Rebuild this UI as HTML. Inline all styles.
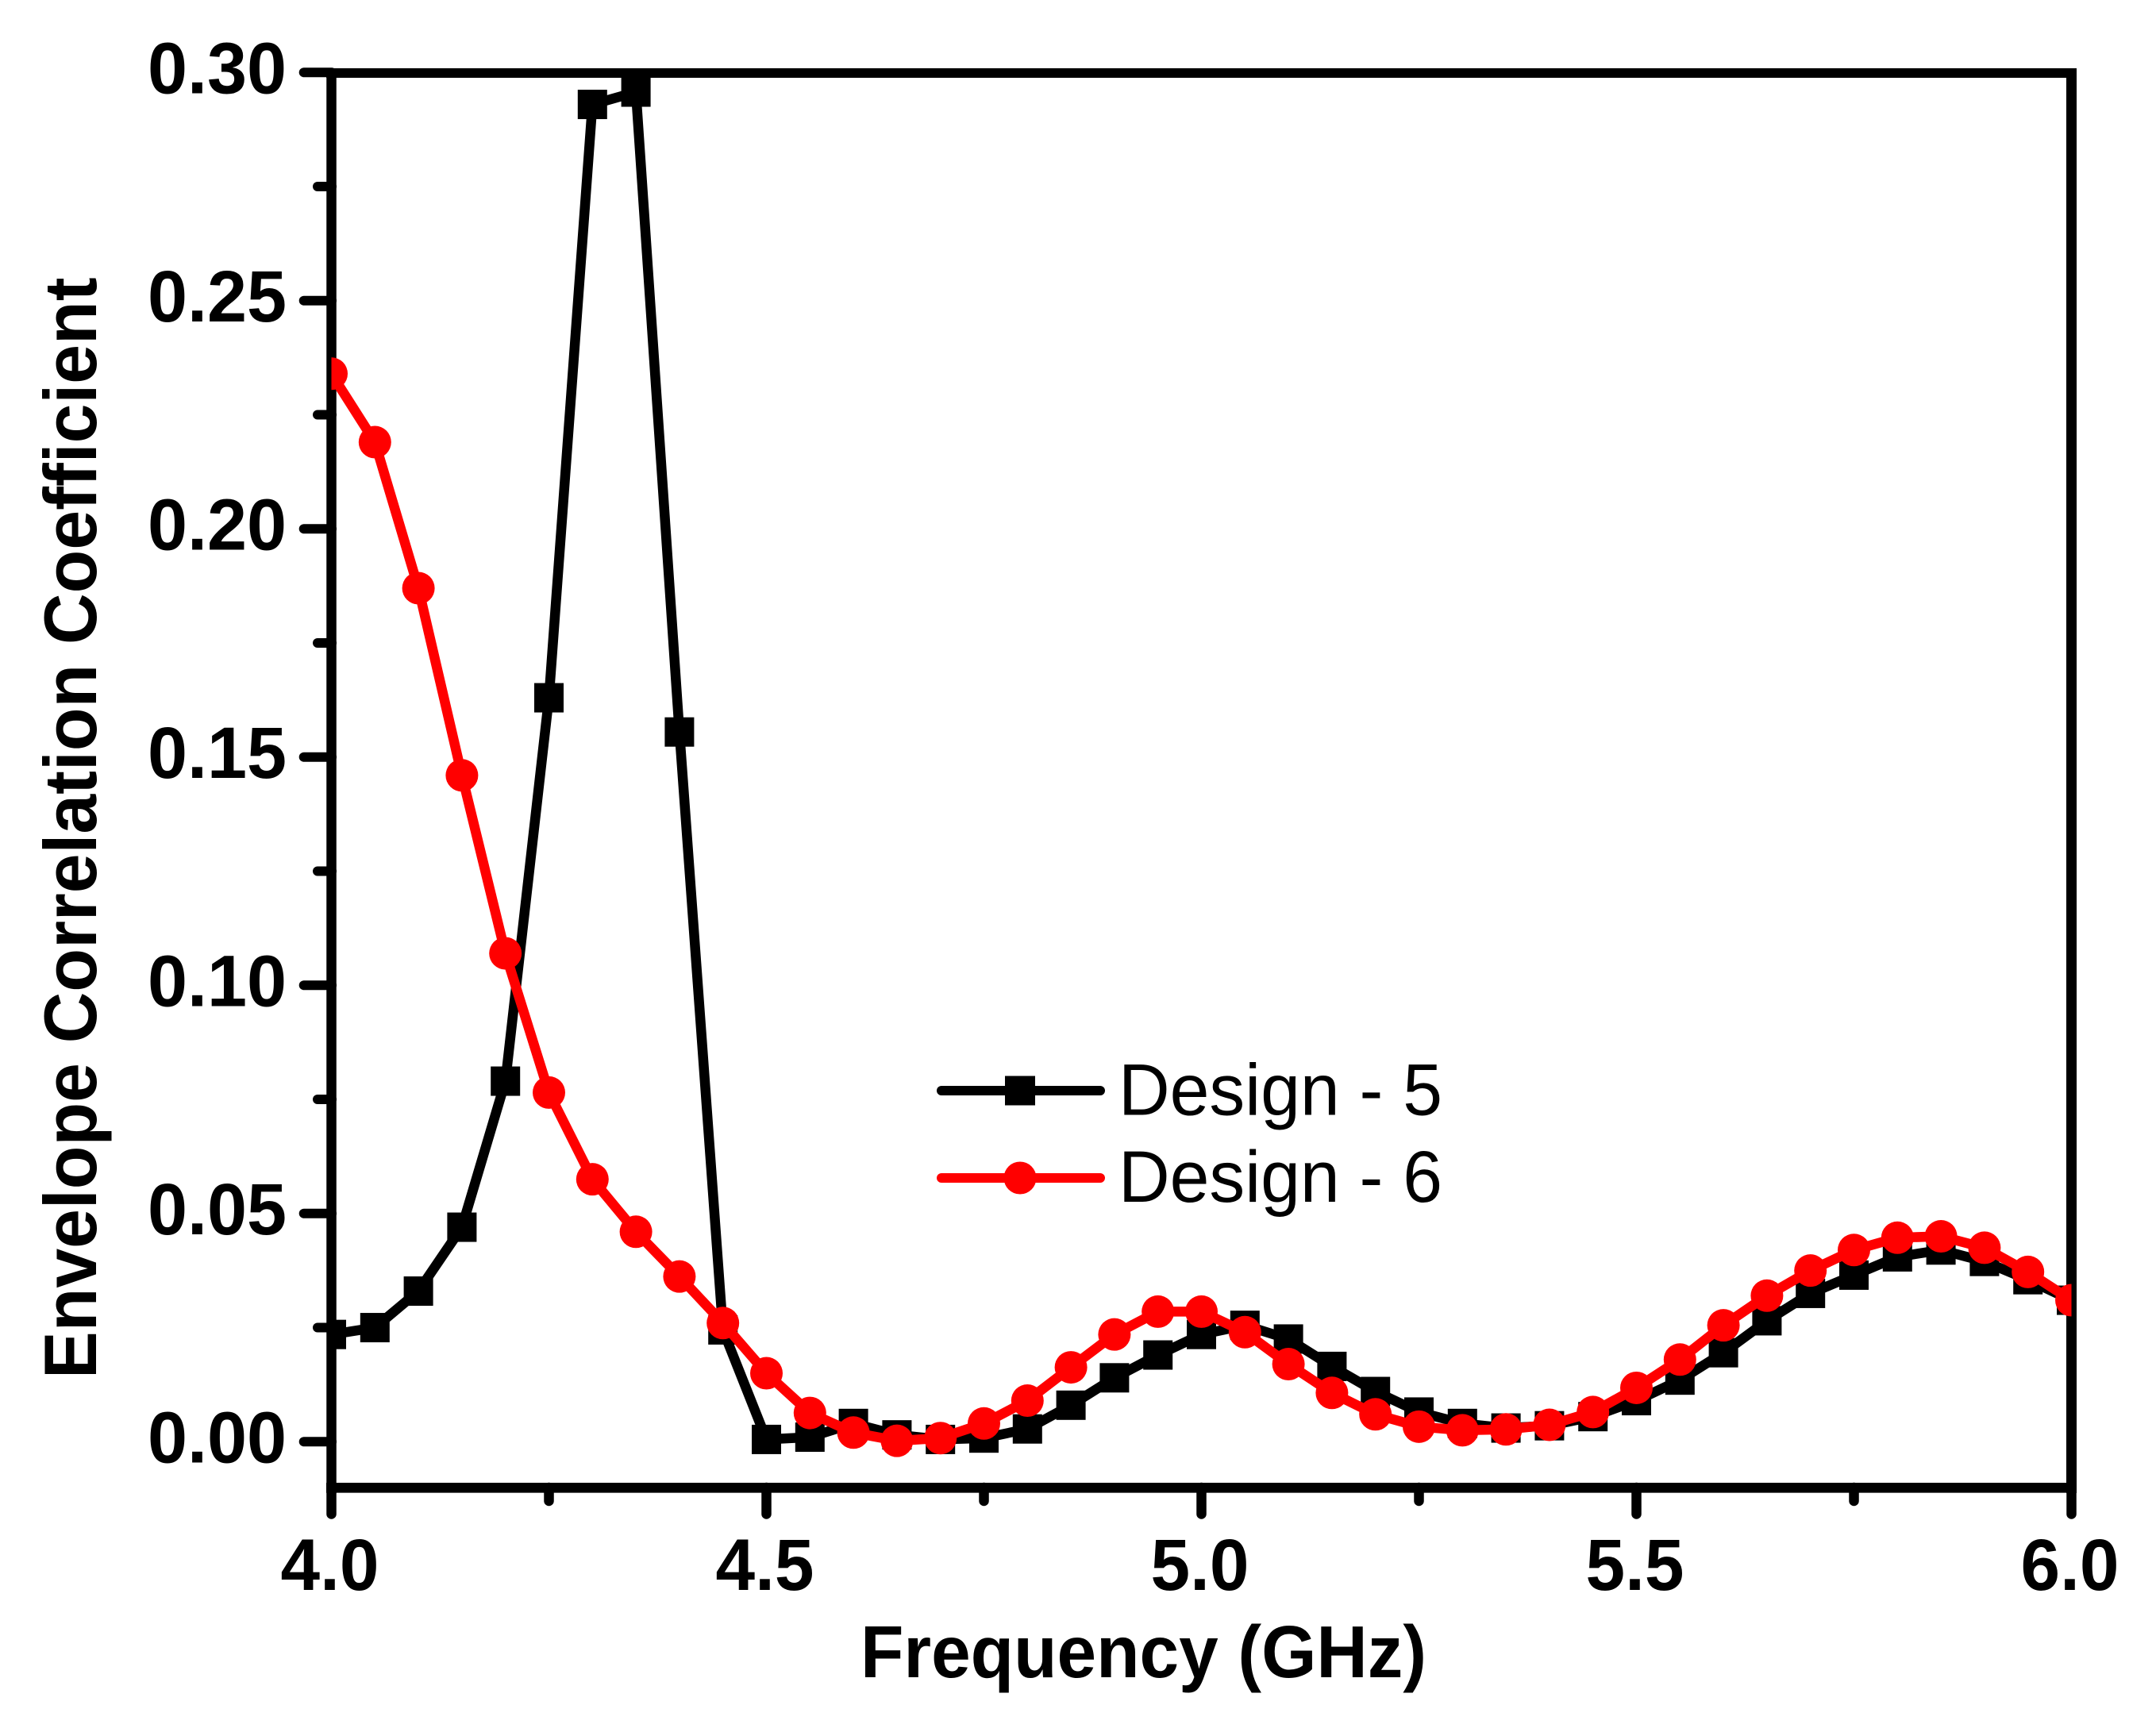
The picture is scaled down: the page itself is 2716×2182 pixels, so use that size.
<!DOCTYPE html>
<html lang="en">
<head>
<meta charset="utf-8">
<title>Envelope Correlation Coefficient vs Frequency</title>
<style>
html,body{margin:0;padding:0;background:#fff;}
svg{display:block;}
text{font-family:"Liberation Sans",Arial,sans-serif;fill:#000;}
</style>
</head>
<body>
<svg id="chart" xmlns="http://www.w3.org/2000/svg" width="2716" height="2182" viewBox="0 0 2716 2182">
  <defs>
    <clipPath id="plot-clip"><rect x="417.5" y="86" width="2192" height="1795"></rect></clipPath>
  </defs>
  <rect x="0" y="0" width="2716" height="2182" fill="#fff"></rect>
  <g id="ticks"></g>
  <g id="frame" stroke="#000" fill="none">
    <line x1="411" x2="2616" y1="92" y2="92" stroke-width="12"></line>
    <line x1="411" x2="2616" y1="1874.3" y2="1874.3" stroke-width="12.7"></line>
    <line x1="417.5" x2="417.5" y1="86" y2="1881" stroke-width="12.5"></line>
    <line x1="2609.5" x2="2609.5" y1="86" y2="1881" stroke-width="13"></line>
  </g>
  <g id="tick-labels"></g>
  <g id="series" clip-path="url(#plot-clip)"></g>
  <text x="1084" y="2113" font-size="93" font-weight="700" textLength="713" lengthAdjust="spacingAndGlyphs">Frequency (GHz)</text>
  <text transform="translate(121,1737) rotate(-90)" font-size="94" font-weight="700" textLength="1387.5" lengthAdjust="spacingAndGlyphs">Envelope Correlation Coefficient</text>
  <g>
    <g>
      <line x1="1186" x2="1386" y1="1374" y2="1374" stroke="#000" stroke-width="12" stroke-linecap="round"></line>
      <rect x="1266" y="1355.5" width="38" height="37" fill="#000"></rect>
      <text x="1409" y="1404.5" font-size="91.5" textLength="408" lengthAdjust="spacingAndGlyphs">Design - 5</text>
    </g>
    <g>
      <line x1="1186" x2="1386" y1="1484" y2="1484" stroke="#f00" stroke-width="12" stroke-linecap="round"></line>
      <circle cx="1285" cy="1484" r="20.5" fill="#f00"></circle>
      <text x="1409" y="1514" font-size="91.5" textLength="408" lengthAdjust="spacingAndGlyphs">Design - 6</text>
    </g>
  </g>
</svg>
<script>
const frequencies = [4.00,4.05,4.10,4.15,4.20,4.25,4.30,4.35,4.40,4.45,4.50,4.55,4.60,4.65,4.70,4.75,4.80,4.85,4.90,4.95,5.00,5.05,5.10,5.15,5.20,5.25,5.30,5.35,5.40,5.45,5.50,5.55,5.60,5.65,5.70,5.75,5.80,5.85,5.90,5.95,6.00];
const design5 = [0.0235,0.025,0.033,0.047,0.079,0.163,0.293,0.2957,0.1555,0.0245,0.0005,0.001,0.004,0.0015,0.0005,0.0008,0.0028,0.008,0.014,0.019,0.0235,0.0255,0.0225,0.0165,0.011,0.0065,0.004,0.003,0.0035,0.0055,0.009,0.0135,0.0195,0.0265,0.0325,0.0365,0.0405,0.042,0.0395,0.0355,0.031];
const design6 = [0.234,0.219,0.187,0.146,0.107,0.0765,0.0575,0.046,0.0362,0.026,0.015,0.0063,0.002,0.0002,0.0008,0.004,0.009,0.0163,0.0235,0.0285,0.0285,0.024,0.017,0.0107,0.006,0.0033,0.0025,0.0027,0.0037,0.0065,0.0118,0.018,0.0255,0.032,0.0375,0.042,0.0447,0.045,0.0425,0.0372,0.031];
const xMajorTicks = [4.0,4.5,5.0,5.5,6.0];
const xMinorTicks = [4.25,4.75,5.25,5.75];
const yMajorTicks = [0.00,0.05,0.10,0.15,0.20,0.25,0.30];
const yMinorTicks = [0.025,0.075,0.125,0.175,0.225,0.275];
const xTickLabels = ["4.0","4.5","5.0","5.5","6.0"];
const yTickLabels = ["0.00","0.05","0.10","0.15","0.20","0.25","0.30"];

const SVG_NS = "http://www.w3.org/2000/svg";
function xAxis(f){ return 417.5 + (f - 4.0) * 1096; }
function yAxis(v){ return 1816.3 - v * 5750; }
function make(tag, attrs, parent){
  const el = document.createElementNS(SVG_NS, tag);
  for (const k in attrs) el.setAttribute(k, attrs[k]);
  parent.appendChild(el);
  return el;
}
const tickGroup = document.getElementById("ticks");
const labelGroup = document.getElementById("tick-labels");
const seriesGroup = document.getElementById("series");

xMajorTicks.forEach(function(t, i){
  const tick = make("line", {x1:xAxis(t), x2:xAxis(t), y1:1874, y2:1907.5, stroke:"#000", "stroke-width":12.5, "stroke-linecap":"round"}, tickGroup);
  
  
  const label = make("text", {x:xAxis(t) - 64, y:2003, "font-size":92, "font-weight":700, textLength:124, lengthAdjust:"spacingAndGlyphs"}, labelGroup);
  label.textContent = xTickLabels[i];
  
  
});
xMinorTicks.forEach(function(t){
  const tick = make("line", {x1:xAxis(t), x2:xAxis(t), y1:1874, y2:1891, stroke:"#000", "stroke-width":12.5, "stroke-linecap":"round"}, tickGroup);
  
  
});
yMajorTicks.forEach(function(t, i){
  const tick = make("line", {x1:418, x2:382.7, y1:yAxis(t), y2:yAxis(t), stroke:"#000", "stroke-width":12, "stroke-linecap":"round"}, tickGroup);
  
  
  const label = make("text", {x:186, y:yAxis(t) + 26, "font-size":92, "font-weight":700, textLength:175, lengthAdjust:"spacingAndGlyphs"}, labelGroup);
  label.textContent = yTickLabels[i];
  
  
});
yMinorTicks.forEach(function(t){
  const tick = make("line", {x1:418, x2:400, y1:yAxis(t), y2:yAxis(t), stroke:"#000", "stroke-width":12, "stroke-linecap":"round"}, tickGroup);
  
  
});

function pointsFor(values){
  return values.map(function(v, i){ return xAxis(frequencies[i]) + "," + yAxis(v); }).join(" ");
}
const line5 = make("polyline", {points:pointsFor(design5), fill:"none", stroke:"#000", "stroke-width":12.5, "stroke-linejoin":"round"}, seriesGroup);


design5.forEach(function(v, i){
  const marker = make("rect", {x:xAxis(frequencies[i]) - 18.5, y:yAxis(v) - 18.5, width:37, height:37, fill:"#000"}, seriesGroup);
  
  
});
const line6 = make("polyline", {points:pointsFor(design6), fill:"none", stroke:"#f00", "stroke-width":12.5, "stroke-linejoin":"round"}, seriesGroup);


design6.forEach(function(v, i){
  const marker = make("circle", {cx:xAxis(frequencies[i]), cy:yAxis(v), r:20.5, fill:"#f00"}, seriesGroup);
  
  
});
</script>
</body>
</html>
